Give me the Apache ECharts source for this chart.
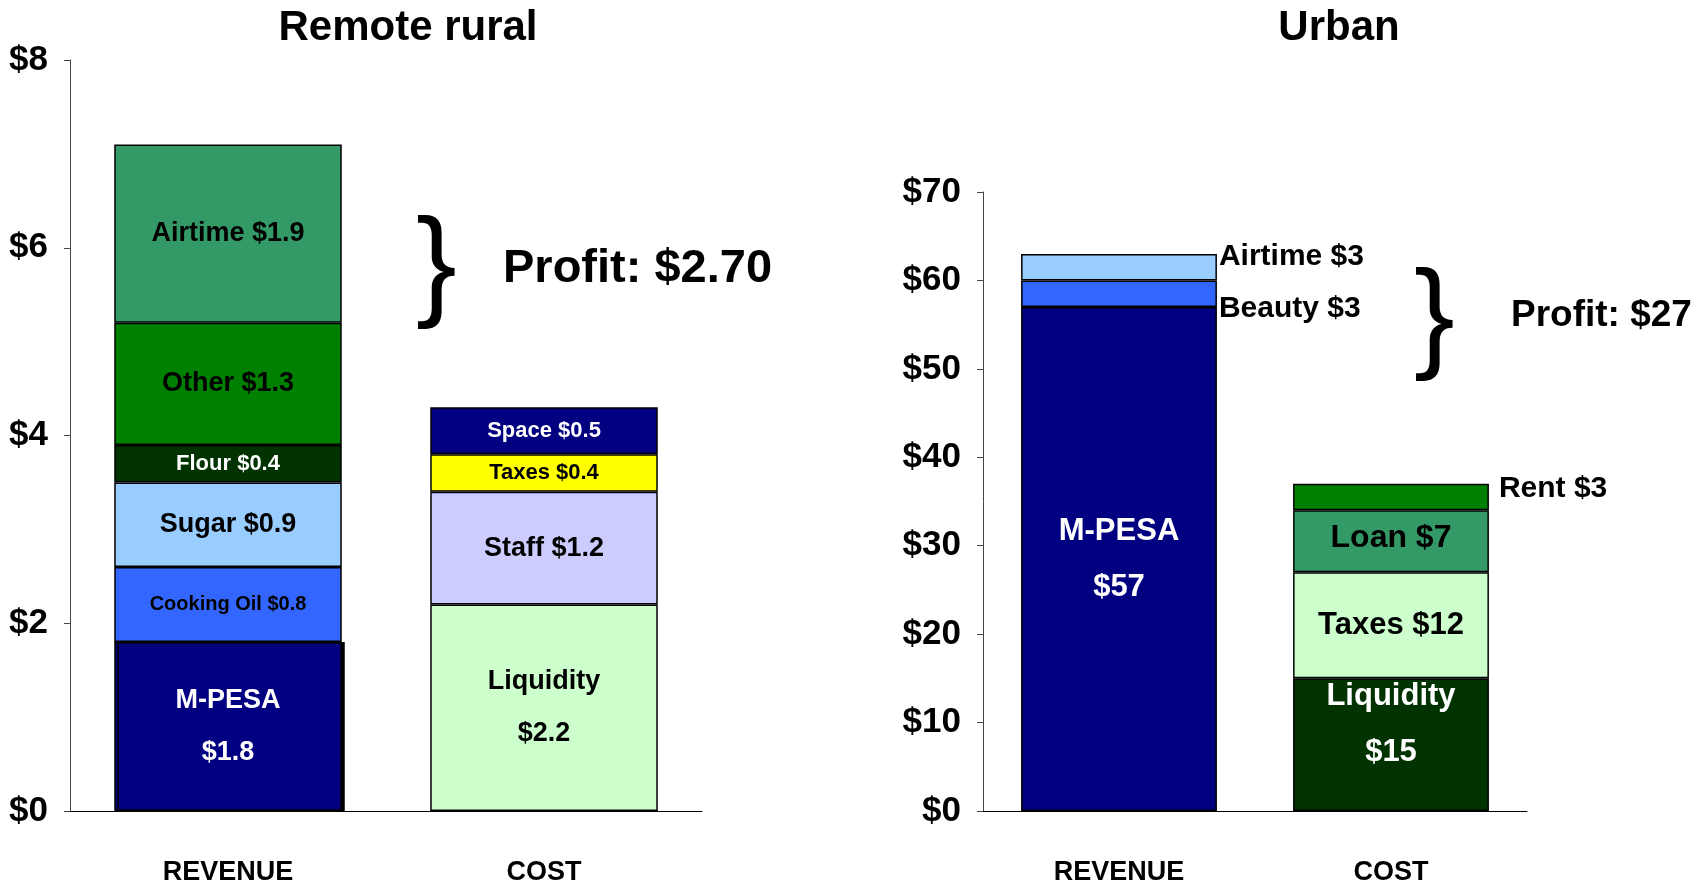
<!DOCTYPE html>
<html>
<head>
<meta charset="UTF-8">
<title>Agent revenue and cost</title>
<script src="https://cdn.jsdelivr.net/npm/echarts@6/dist/echarts.min.js"></script>
<style>
  html, body { margin: 0; padding: 0; background: #fff; }
  #main { width: 1707px; height: 887px; }
</style>
</head>
<body>
<div id="main"></div>
<script type="text/javascript">
// categories shared by both panels
var categories = ['REVENUE', 'COST'];

// remote rural agent, $ per day (bottom of stack first)
var ruralRevNames = ['M-PESA', 'Cooking Oil', 'Sugar', 'Flour', 'Other', 'Airtime'];
var ruralRevValues = [1.8, 0.8, 0.9, 0.4, 1.3, 1.9];
var ruralCostNames = ['Liquidity', 'Staff', 'Taxes', 'Space'];
var ruralCostValues = [2.2, 1.2, 0.4, 0.5];
var ruralTicks = [0, 2, 4, 6, 8];
var ruralProfit = 'Profit: $2.70';

// urban agent
var urbanRevNames = ['M-PESA', 'Beauty', 'Airtime'];
var urbanRevValues = [57, 3, 3];
var urbanCostNames = ['Liquidity', 'Taxes', 'Loan', 'Rent'];
var urbanCostValues = [15, 12, 7, 3];
var urbanTicks = [0, 10, 20, 30, 40, 50, 60, 70];
var urbanProfit = 'Profit: $27';

var font = '"Liberation Sans", Arial, sans-serif';

// look of each segment, same order as the names above
var ruralRevStyle = [
    {color: '#000080', text: '#fff', size: 27, wrap: true, lh: 52, shadow: true},
    {color: '#3366ff', text: '#000', size: 20},
    {color: '#99ccff', text: '#000', size: 27},
    {color: '#003300', text: '#fff', size: 22},
    {color: '#008000', text: '#000', size: 27},
    {color: '#339966', text: '#000', size: 27}
];
var ruralCostStyle = [
    {color: '#ccffcc', text: '#000', size: 27, wrap: true, lh: 52},
    {color: '#ccccff', text: '#000', size: 27},
    {color: '#ffff00', text: '#000', size: 22},
    {color: '#000080', text: '#fff', size: 22}
];
var urbanRevStyle = [
    {color: '#000080', text: '#fff', size: 31, wrap: true, lh: 56},
    {color: '#3366ff', text: '#000', size: 30, pos: 'right', off: [0, 15]},
    {color: '#99ccff', text: '#000', size: 30, pos: 'right', off: [0, -10]}
];
var urbanCostStyle = [
    {color: '#003300', text: '#fff', size: 31, wrap: true, lh: 56, off: [0, -20]},
    {color: '#ccffcc', text: '#000', size: 31},
    {color: '#339966', text: '#000', size: 32, off: [0, -3]},
    {color: '#008000', text: '#000', size: 30, pos: 'right', off: [0, -8], dist: 10}
];

function makeSeries(g, names, values, catIdx, styles) {
    return names.map(function (n, i) {
        var st = styles[i];
        var d = [null, null];
        d[catIdx] = values[i];
        var item = {color: st.color, borderColor: '#000', borderWidth: 1.5};
        if (st.shadow) {
            item.shadowColor = '#000';
            item.shadowOffsetX = 3;
            item.shadowBlur = 0;
        }
        return {
            name: n,
            type: 'bar',
            stack: 'g' + g,
            xAxisIndex: g,
            yAxisIndex: g,
            barWidth: '72%',
            data: d,
            itemStyle: item,
            label: {
                show: true,
                position: st.pos || 'inside',
                distance: st.dist || 2,
                offset: st.off || [0, 0],
                color: st.text,
                fontSize: st.size,
                fontWeight: 'bold',
                fontFamily: font,
                lineHeight: st.lh || st.size + 4,
                formatter: function () {
                    return st.wrap ? n + '\n$' + values[i] : n + ' $' + values[i];
                }
            }
        };
    });
}

function xAxis(g) {
    return {
        gridIndex: g,
        type: 'category',
        data: categories,
        axisLine: {lineStyle: {color: '#000', width: 1}},
        axisTick: {length: 12, lineStyle: {color: '#000'}},
        axisLabel: {margin: 48, color: '#000', fontSize: 27, fontWeight: 'bold', fontFamily: font}
    };
}

function yAxis(g, ticks) {
    return {
        gridIndex: g,
        type: 'value',
        min: ticks[0],
        max: ticks[ticks.length - 1],
        interval: ticks[1] - ticks[0],
        splitLine: {show: false},
        axisLine: {show: true, lineStyle: {color: '#444', width: 1}},
        axisTick: {show: true, length: 6, lineStyle: {color: '#444'}},
        axisLabel: {
            margin: 22, color: '#000', fontSize: 35, fontWeight: 'bold', fontFamily: font,
            formatter: function (v) { return '$' + v; }
        }
    };
}

var myChart = echarts.init(document.getElementById('main'));

var series = []
    .concat(makeSeries(0, ruralRevNames, ruralRevValues, 0, ruralRevStyle))
    .concat(makeSeries(0, ruralCostNames, ruralCostValues, 1, ruralCostStyle))
    .concat(makeSeries(1, urbanRevNames, urbanRevValues, 0, urbanRevStyle))
    .concat(makeSeries(1, urbanCostNames, urbanCostValues, 1, urbanCostStyle));

var option = {
    animation: false,
    backgroundColor: '#fff',
    title: [
        {text: 'Remote rural', left: 403, top: 2, textAlign: 'center',
         textStyle: {fontSize: 42, fontWeight: 'bold', fontFamily: font, color: '#000'}},
        {text: 'Urban', left: 1334, top: 2, textAlign: 'center',
         textStyle: {fontSize: 42, fontWeight: 'bold', fontFamily: font, color: '#000'}}
    ],
    grid: [
        {left: 70, right: 1005, top: 60, bottom: 76},
        {left: 983, right: 180, top: 192, bottom: 76}
    ],
    xAxis: [xAxis(0), xAxis(1)],
    yAxis: [yAxis(0, ruralTicks), yAxis(1, urbanTicks)],
    series: series,
    graphic: [
        {type: 'text', x: 416, y: 270, style: {text: '}', font: 'normal 122px ' + font, fill: '#000', verticalAlign: 'middle'}},
        {type: 'text', x: 503, y: 269, style: {text: ruralProfit, font: 'bold 47px ' + font, fill: '#000', verticalAlign: 'middle'}},
        {type: 'text', x: 1414, y: 322, style: {text: '}', font: 'normal 122px ' + font, fill: '#000', verticalAlign: 'middle'}},
        {type: 'text', x: 1511, y: 316, style: {text: urbanProfit, font: 'bold 37px ' + font, fill: '#000', verticalAlign: 'middle'}}
    ]
};

myChart.setOption(option);
</script>
</body>
</html>
